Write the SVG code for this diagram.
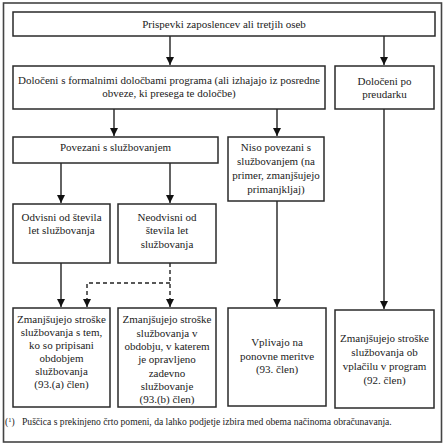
<svg xmlns="http://www.w3.org/2000/svg" width="445" height="447" viewBox="0 0 445 447">
<defs>
<style>
.box{fill:#fff;stroke:#2a2a2a;stroke-width:1.5}
.t{font-family:"Liberation Serif","Times New Roman",serif;font-size:11px;fill:#222;text-anchor:middle}
.fn{font-family:"Liberation Serif","Times New Roman",serif;font-size:9.6px;fill:#222}
.c{fill:none;stroke:#222;stroke-width:1.4}
.d{stroke-dasharray:4,3}
</style>
<marker id="ah" markerUnits="userSpaceOnUse" markerWidth="9" markerHeight="9" refX="8" refY="4" orient="auto">
<path d="M0,0 L8,4 L0,8 z" fill="#111"/>
</marker>
</defs>
<rect x="0" y="0" width="445" height="447" fill="#fff"/>
<rect x="3.5" y="3" width="438" height="439" fill="none" stroke="#444" stroke-width="1.6"/>

<g id="connectors">
<line class="c" x1="170" y1="36" x2="170" y2="65" marker-end="url(#ah)"/>
<line class="c" x1="384" y1="36" x2="384" y2="65" marker-end="url(#ah)"/>
<line class="c" x1="114" y1="109" x2="114" y2="136" marker-end="url(#ah)"/>
<line class="c" x1="277" y1="109" x2="277" y2="136" marker-end="url(#ah)"/>
<line class="c" x1="61" y1="163" x2="61" y2="203" marker-end="url(#ah)"/>
<line class="c" x1="170" y1="163" x2="170" y2="203" marker-end="url(#ah)"/>
<line class="c" x1="61" y1="263" x2="61" y2="307" marker-end="url(#ah)"/>
<line class="c d" x1="170" y1="263" x2="170" y2="307" marker-end="url(#ah)"/>
<polyline class="c d" points="170,283 87,283 87,307" marker-end="url(#ah)"/>
<line class="c" x1="277" y1="201" x2="277" y2="307" marker-end="url(#ah)"/>
<line class="c" x1="384" y1="109" x2="384" y2="309" marker-end="url(#ah)"/>
</g>

<g id="n1">
<rect class="box" x="13" y="12" width="422" height="24"/>
<text class="t" x="224" y="28">Prispevki zaposlencev ali tretjih oseb</text>
</g>
<g id="n2">
<rect class="box" x="13" y="66" width="312" height="43"/>
<text class="t" x="169" y="84">Določeni s formalnimi določbami programa (ali izhajajo iz posredne</text>
<text class="t" x="169" y="97">obveze, ki presega te določbe)</text>
</g>
<g id="n3">
<rect class="box" x="335" y="66" width="99" height="43"/>
<text class="t" x="384.5" y="85">Določeni po</text>
<text class="t" x="384.5" y="98">preudarku</text>
</g>
<g id="n4">
<rect class="box" x="13" y="137" width="205" height="26"/>
<text class="t" x="115.5" y="151">Povezani s službovanjem</text>
</g>
<g id="n5">
<rect class="box" x="228" y="137" width="96" height="64"/>
<text class="t" x="276" y="151">Niso povezani s</text>
<text class="t" x="276" y="165">službovanjem (na</text>
<text class="t" x="276" y="179">primer, zmanjšujejo</text>
<text class="t" x="276" y="193">primanjkljaj)</text>
</g>
<g id="n6">
<rect class="box" x="13" y="204" width="97" height="59"/>
<text class="t" x="61.5" y="221">Odvisni od števila</text>
<text class="t" x="61.5" y="234">let službovanja</text>
</g>
<g id="n7">
<rect class="box" x="118" y="204" width="98" height="59"/>
<text class="t" x="167" y="221">Neodvisni od</text>
<text class="t" x="167" y="234">števila let</text>
<text class="t" x="167" y="248">službovanja</text>
</g>
<g id="n8">
<rect class="box" x="13" y="308" width="97" height="99"/>
<text class="t" x="61.5" y="323">Zmanjšujejo stroške</text>
<text class="t" x="61.5" y="336">službovanja s tem,</text>
<text class="t" x="61.5" y="349">ko so pripisani</text>
<text class="t" x="61.5" y="362">obdobjem</text>
<text class="t" x="61.5" y="375">službovanja</text>
<text class="t" x="61.5" y="388">(93.(a) člen)</text>
</g>
<g id="n9">
<rect class="box" x="118" y="308" width="98" height="99"/>
<text class="t" x="167" y="323">Zmanjšujejo stroške</text>
<text class="t" x="167" y="337">službovanja v</text>
<text class="t" x="167" y="350">obdobju, v katerem</text>
<text class="t" x="167" y="363">je opravljeno</text>
<text class="t" x="167" y="377">zadevno</text>
<text class="t" x="167" y="390">službovanje</text>
<text class="t" x="167" y="403">(93.(b) člen)</text>
</g>
<g id="n10">
<rect class="box" x="228" y="308" width="98" height="98"/>
<text class="t" x="277" y="346">Vplivajo na</text>
<text class="t" x="277" y="360">ponovne meritve</text>
<text class="t" x="277" y="373">(93. člen)</text>
</g>
<g id="n11">
<rect class="box" x="335" y="310" width="99" height="98"/>
<text class="t" x="384.5" y="342">Zmanjšujejo stroške</text>
<text class="t" x="384.5" y="356">službovanja ob</text>
<text class="t" x="384.5" y="370">vplačilu v program</text>
<text class="t" x="384.5" y="384">(92. člen)</text>
</g>

<g id="footnote">
<text class="fn" x="5" y="425">(<tspan font-size="6.5" dy="-3">1</tspan><tspan dy="3">)</tspan></text>
<text class="fn" x="22" y="425">Puščica s prekinjeno črto pomeni, da lahko podjetje izbira med obema načinoma obračunavanja.</text>
</g>
</svg>
